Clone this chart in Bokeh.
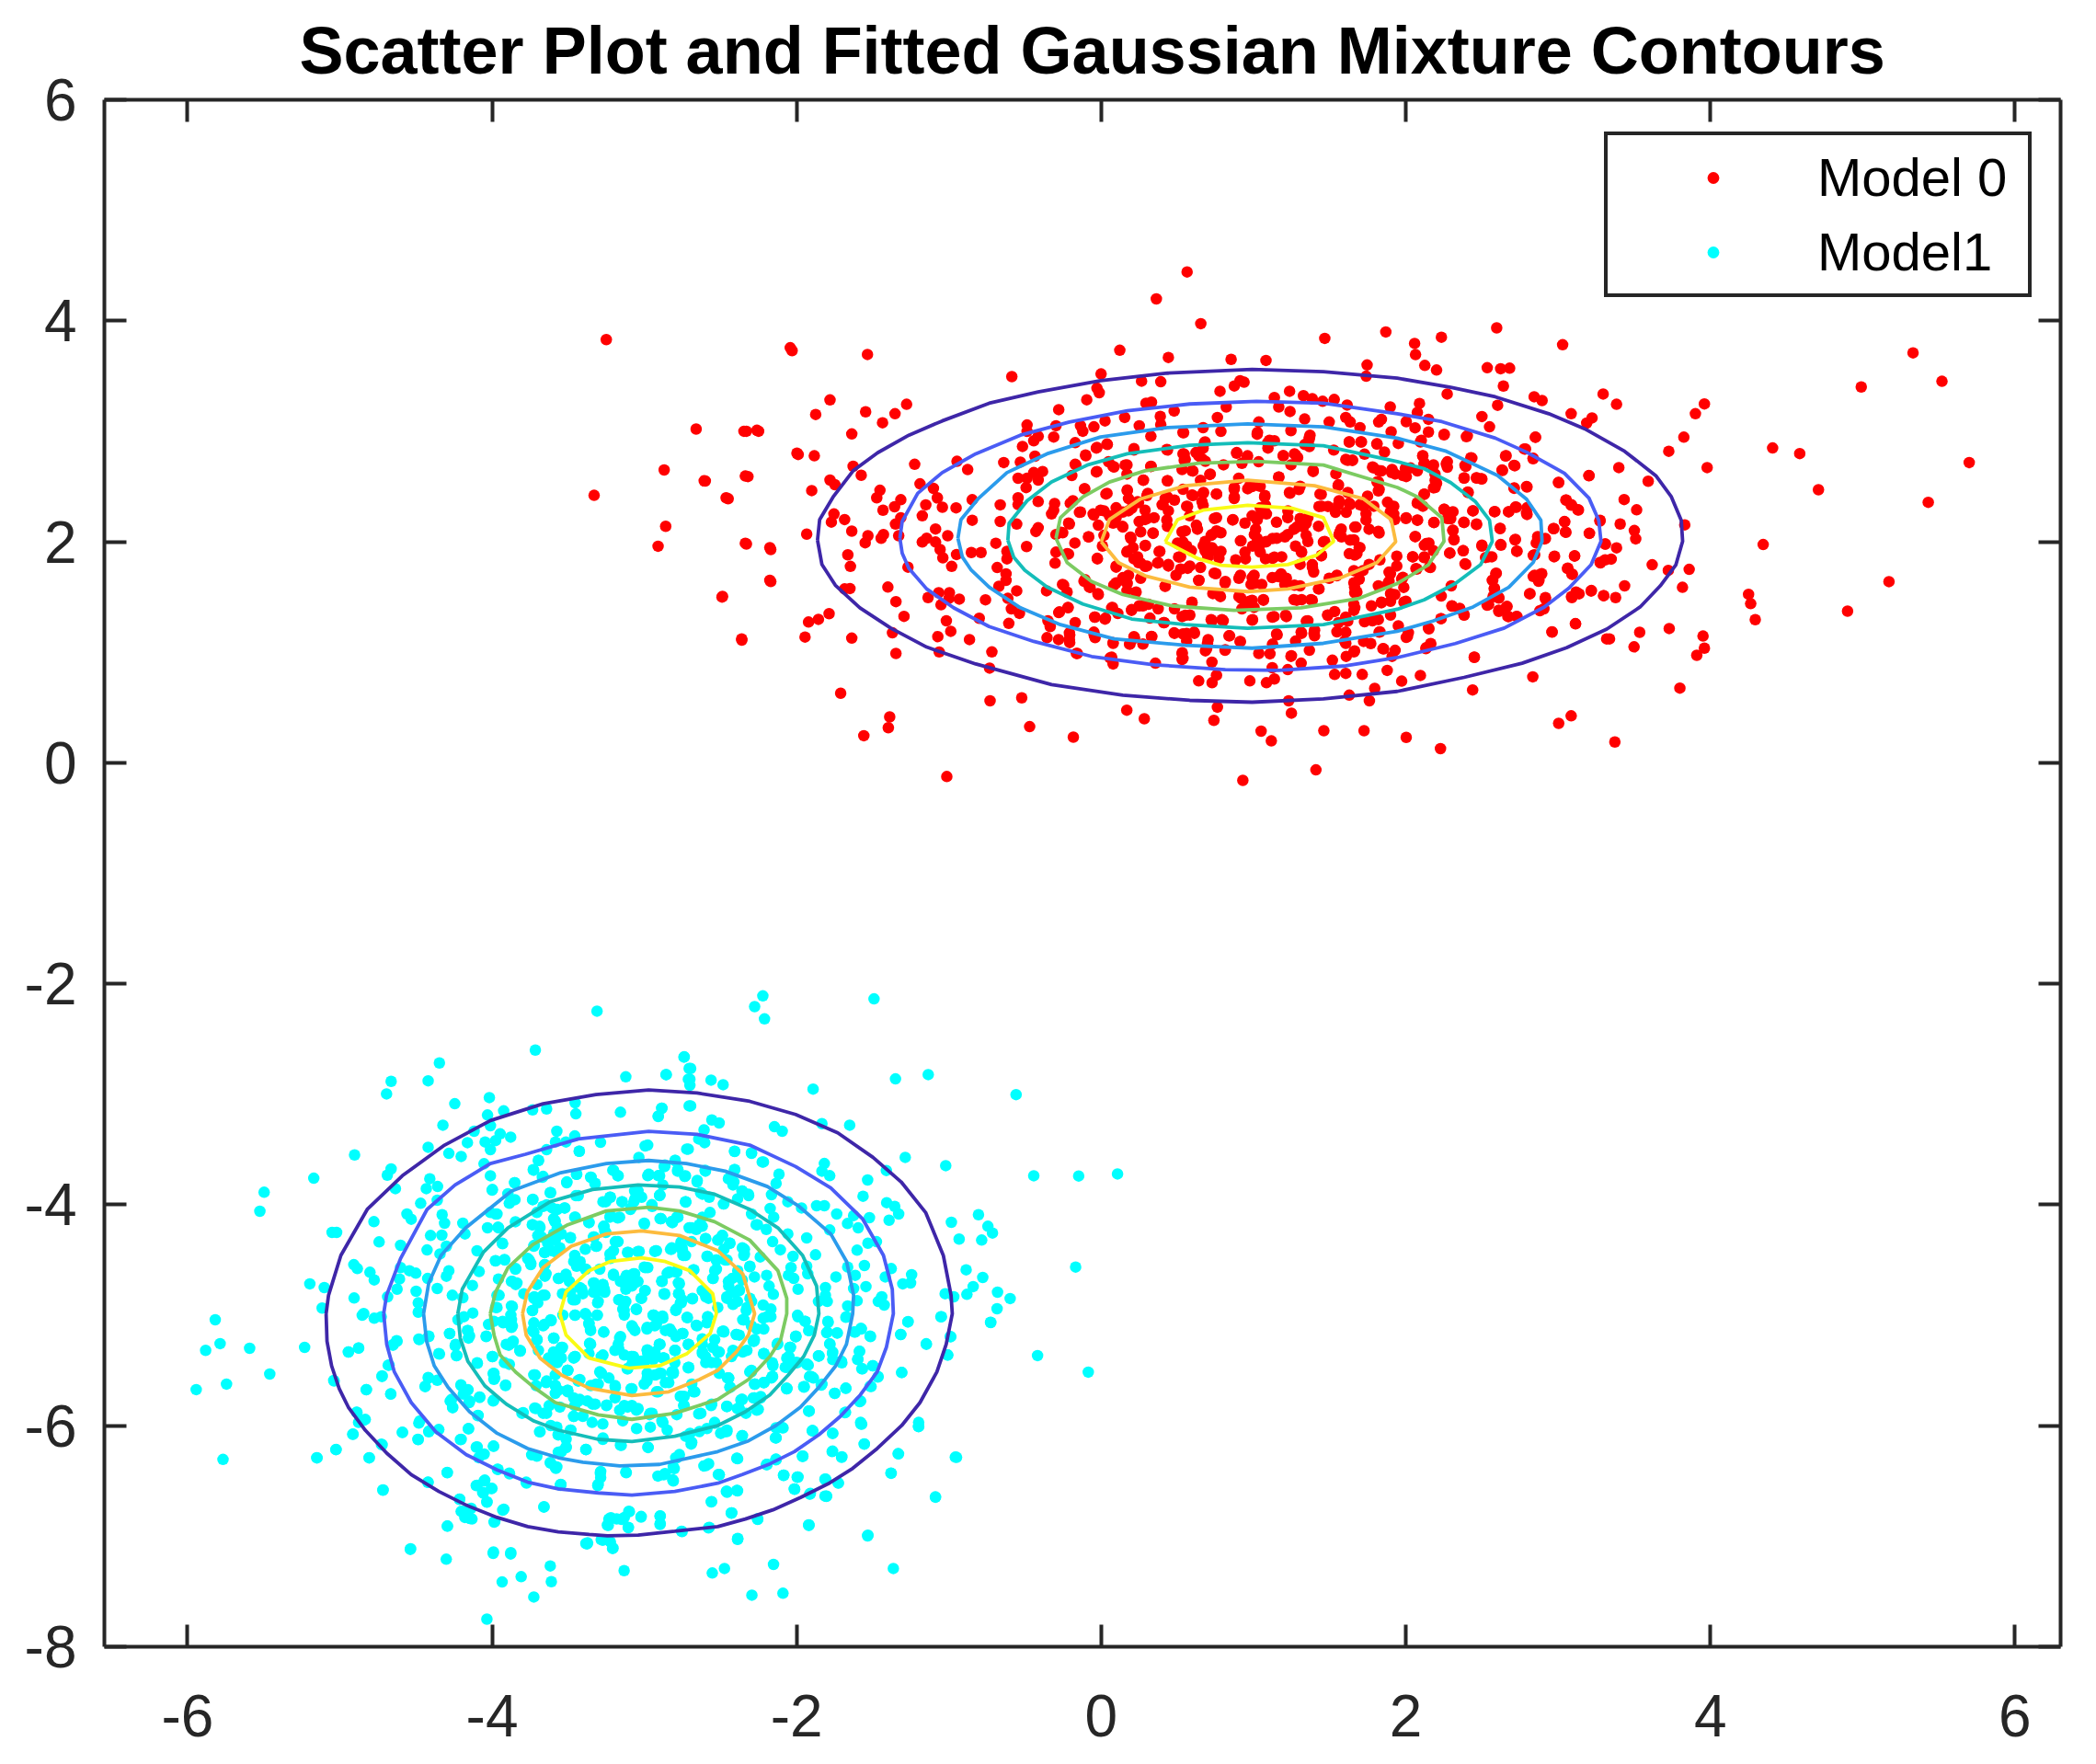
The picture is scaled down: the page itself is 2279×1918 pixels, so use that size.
from bokeh.embed import file_html
from bokeh.models import FixedTicker, Legend, LegendItem, LinearAxis, Range1d
from bokeh.plotting import figure
from bokeh.resources import INLINE

x_ticks = [-6, -4, -2, 0, 2, 4, 6]
y_ticks = [-8, -6, -4, -2, 0, 2, 4, 6]
series_names = ["Model 0", "Model1"]
title_text = "Scatter Plot and Fitted Gaussian Mixture Contours"

contour_colors = ["#3e26a8", "#4a5cf5", "#2b9bec", "#14bdb9", "#7ccb62", "#fcbb3e", "#f9fb15"]

# contours around model 0, outermost first
red_contour_1 = [(-1.863,2.014),(-1.849,2.201),(-1.761,2.405),(-1.629,2.643),(-1.468,2.806),(-1.263,2.965),(-1.044,3.094),(-.736,3.254),(-.414,3.356),(-.004,3.458),(.435,3.526),(.991,3.56),(1.459,3.539),(1.944,3.481),(2.295,3.397),(2.588,3.312),(2.939,3.159),(3.174,3.023),(3.437,2.819),(3.642,2.598),(3.744,2.407),(3.809,2.195),(3.818,2.004),(3.774,1.792),(3.671,1.601),(3.539,1.41),(3.32,1.21),(3.056,1.041),(2.764,.901),(2.383,.773),(1.944,.646),(1.459,.578),(.991,.548),(.581,.565),(.142,.612),(-.326,.707),(-.824,.894),(-1.146,1.047),(-1.38,1.217),(-1.585,1.403),(-1.746,1.607),(-1.834,1.794)]
red_contour_2 = [(-1.322,2.031),(-1.307,2.184),(-1.205,2.439),(-1.044,2.626),(-.824,2.796),(-.531,2.965),(-.209,3.084),(.171,3.186),(.581,3.247),(1.02,3.271),(1.459,3.254),(1.944,3.159),(2.237,3.087),(2.588,2.938),(2.793,2.811),(3.042,2.62),(3.203,2.395),(3.267,2.195),(3.282,2.004),(3.217,1.792),(3.071,1.58),(2.91,1.41),(2.647,1.219),(2.325,1.079),(1.944,.952),(1.606,.877),(1.167,.836),(.815,.843),(.347,.887),(-.063,.962),(-.443,1.098),(-.736,1.233),(-.97,1.403),(-1.146,1.573),(-1.263,1.76),(-1.307,1.896)]
red_contour_3 = [(-.941,2.032),(-.921,2.201),(-.809,2.388),(-.619,2.626),(-.356,2.796),(-.004,2.948),(.435,3.033),(.962,3.067),(1.459,3.04),(1.944,2.938),(2.266,2.819),(2.603,2.6),(2.793,2.386),(2.887,2.195),(2.895,2.004),(2.837,1.813),(2.676,1.588),(2.442,1.41),(2.178,1.283),(1.944,1.19),(1.459,1.081),(.991,1.037),(.552,1.064),(.084,1.121),(-.268,1.25),(-.531,1.403),(-.736,1.59),(-.853,1.743),(-.912,1.862)]
red_contour_4 = [(-.613,2.014),(-.605,2.167),(-.487,2.371),(-.326,2.541),(-.092,2.694),(.171,2.796),(.581,2.874),(.962,2.897),(1.459,2.87),(1.944,2.726),(2.12,2.662),(2.295,2.535),(2.456,2.365),(2.55,2.195),(2.568,2.004),(2.491,1.792),(2.325,1.622),(2.12,1.474),(1.944,1.389),(1.459,1.25),(.962,1.217),(.552,1.25),(.2,1.301),(-.121,1.437),(-.356,1.59),(-.502,1.743),(-.575,1.862)]
red_contour_5 = [(-.297,2.032),(-.268,2.218),(-.121,2.405),(.054,2.541),(.288,2.643),(.64,2.711),(1.02,2.728),(1.459,2.694),(1.944,2.492),(2.076,2.407),(2.237,2.217),(2.251,2.004),(2.149,1.792),(1.944,1.622),(1.694,1.488),(1.313,1.403),(.874,1.38),(.464,1.42),(.142,1.522),(-.063,1.641),(-.224,1.811)]
red_contour_6 = [(0.0,2.0),(.054,2.201),(.259,2.388),(.552,2.507),(.962,2.558),(1.401,2.507),(1.723,2.388),(1.904,2.201),(1.934,2.0),(1.811,1.811),(1.576,1.675),(1.225,1.573),(.962,1.549),(.581,1.59),(.288,1.692),(.113,1.811)]
red_contour_7 = [(.42,2.0),(.502,2.201),(.669,2.286),(.962,2.33),(1.254,2.303),(1.459,2.218),(1.527,2.004),(1.415,1.879),(1.225,1.794),(.991,1.77),(.786,1.787),(.64,1.845)]

# contours around model 1, outermost first
cyan_contour_1 = [(-5.09,-4.986),(-5.074,-4.819),(-4.993,-4.458),(-4.82,-4.042),(-4.589,-3.737),(-4.312,-3.46),(-4.011,-3.238),(-3.665,-3.086),(-3.318,-3.003),(-2.972,-2.961),(-2.654,-2.989),(-2.308,-3.064),(-2.007,-3.183),(-1.73,-3.349),(-1.499,-3.571),(-1.314,-3.793),(-1.153,-4.07),(-1.037,-4.458),(-.986,-4.819),(-.978,-4.986),(-1.018,-5.263),(-1.079,-5.513),(-1.19,-5.79),(-1.31,-5.998),(-1.471,-6.206),(-1.632,-6.386),(-1.793,-6.525),(-1.975,-6.65),(-2.156,-6.761),(-2.337,-6.844),(-2.518,-6.913),(-2.8,-6.955),(-3.041,-6.99),(-3.243,-6.996),(-3.363,-6.983),(-3.565,-6.96),(-3.766,-6.913),(-3.967,-6.83),(-4.169,-6.719),(-4.35,-6.594),(-4.531,-6.442),(-4.692,-6.248),(-4.833,-6.04),(-4.944,-5.832),(-5.004,-5.665),(-5.054,-5.457),(-5.084,-5.236)]
cyan_contour_2 = [(-4.712,-4.986),(-4.693,-4.819),(-4.601,-4.486),(-4.427,-4.042),(-4.243,-3.821),(-4.011,-3.627),(-3.78,-3.543),(-3.434,-3.405),(-2.972,-3.335),(-2.654,-3.363),(-2.308,-3.46),(-2.007,-3.654),(-1.776,-3.848),(-1.568,-4.126),(-1.43,-4.458),(-1.372,-4.764),(-1.365,-4.986),(-1.411,-5.291),(-1.471,-5.513),(-1.582,-5.721),(-1.713,-5.915),(-1.854,-6.081),(-2.015,-6.234),(-2.176,-6.345),(-2.357,-6.442),(-2.518,-6.52),(-2.8,-6.594),(-3.082,-6.627),(-3.303,-6.608),(-3.565,-6.572),(-3.766,-6.511),(-3.967,-6.4),(-4.169,-6.262),(-4.37,-6.054),(-4.531,-5.79),(-4.642,-5.513),(-4.692,-5.263)]
cyan_contour_3 = [(-4.45,-4.986),(-4.416,-4.708),(-4.335,-4.458),(-4.173,-4.209),(-3.873,-3.876),(-3.549,-3.71),(-3.249,-3.627),(-2.972,-3.599),(-2.724,-3.627),(-2.47,-3.696),(-2.192,-3.835),(-1.984,-4.015),(-1.776,-4.264),(-1.672,-4.514),(-1.626,-4.819),(-1.632,-4.986),(-1.673,-5.263),(-1.743,-5.457),(-1.854,-5.652),(-1.975,-5.832),(-2.136,-5.998),(-2.317,-6.137),(-2.518,-6.234),(-2.9,-6.35),(-3.162,-6.364),(-3.404,-6.331),(-3.565,-6.29),(-3.766,-6.206),(-3.967,-6.068),(-4.148,-5.873),(-4.289,-5.652),(-4.38,-5.457),(-4.43,-5.236)]
cyan_contour_4 = [(-4.225,-4.986),(-4.196,-4.764),(-4.058,-4.431),(-3.896,-4.209),(-3.619,-3.973),(-3.341,-3.862),(-3.041,-3.821),(-2.77,-3.84),(-2.539,-3.904),(-2.308,-4.042),(-2.123,-4.209),(-1.961,-4.458),(-1.869,-4.736),(-1.854,-4.986),(-1.884,-5.18),(-1.954,-5.374),(-2.055,-5.541),(-2.176,-5.721),(-2.337,-5.873),(-2.518,-5.998),(-2.8,-6.095),(-3.082,-6.142),(-3.303,-6.123),(-3.565,-6.04),(-3.726,-5.957),(-3.907,-5.804),(-4.048,-5.638),(-4.159,-5.416),(-4.209,-5.208)]
cyan_contour_5 = [(-4.012,-4.986),(-3.977,-4.791),(-3.896,-4.569),(-3.734,-4.361),(-3.503,-4.181),(-3.249,-4.056),(-2.972,-4.023),(-2.77,-4.056),(-2.539,-4.153),(-2.308,-4.32),(-2.123,-4.597),(-2.065,-4.847),(-2.065,-4.986),(-2.105,-5.222),(-2.176,-5.374),(-2.317,-5.582),(-2.518,-5.762),(-2.8,-5.887),(-3.082,-5.942),(-3.303,-5.901),(-3.585,-5.79),(-3.726,-5.652),(-3.846,-5.513),(-3.947,-5.36),(-3.987,-5.18)]
cyan_contour_6 = [(-3.8,-4.986),(-3.769,-4.791),(-3.665,-4.569),(-3.48,-4.375),(-3.249,-4.264),(-3.018,-4.237),(-2.77,-4.278),(-2.516,-4.417),(-2.354,-4.625),(-2.276,-4.986),(-2.317,-5.18),(-2.397,-5.333),(-2.518,-5.499),(-2.639,-5.582),(-2.84,-5.693),(-3.082,-5.726),(-3.363,-5.66),(-3.545,-5.541),(-3.685,-5.388),(-3.776,-5.18)]
cyan_contour_7 = [(-3.555,-4.986),(-3.515,-4.791),(-3.364,-4.597),(-3.226,-4.514),(-3.018,-4.481),(-2.862,-4.514),(-2.701,-4.597),(-2.551,-4.805),(-2.527,-4.985),(-2.568,-5.166),(-2.719,-5.346),(-2.9,-5.457),(-3.102,-5.479),(-3.363,-5.388),(-3.514,-5.18)]

red_contours = [red_contour_1, red_contour_2, red_contour_3, red_contour_4, red_contour_5, red_contour_6, red_contour_7]
cyan_contours = [cyan_contour_1, cyan_contour_2, cyan_contour_3, cyan_contour_4, cyan_contour_5, cyan_contour_6, cyan_contour_7]

model_0_points = [(.564,4.442),(.362,4.198),(.654,3.974),(1.869,3.899),(1.468,3.841),(-2.042,3.756),(-1.535,3.695),(.122,3.733),(.441,3.668),(.853,3.651),(1.082,3.641),(1.746,3.6),(-.587,3.495),(-.001,3.519),(.265,3.454),(.391,3.448),(1.74,3.498),(.912,3.458),(.938,3.444),(.874,3.41),(-.028,3.39),(-.013,3.349),(.78,3.362),(1.237,3.362),(-.095,3.285),(1.137,3.305),(1.328,3.322),(1.386,3.295),(1.454,3.271),(1.53,3.288),(-1.781,3.284),(-1.278,3.244),(.294,3.254),(.33,3.264),(.821,3.22),(1.166,3.22),(1.24,3.179),(1.615,3.237),(1.898,3.22),(-.279,3.196),(-1.875,3.152),(-1.547,3.176),(-1.354,3.159),(.479,3.183),(.388,3.135),(.763,3.125),(.154,3.125),(1.606,3.125),(1.635,3.084),(1.84,3.108),(1.822,3.084),(-1.436,3.077),(1.336,3.111),(.025,3.094),(.391,3.06),(1.035,3.084),(1.497,3.084),(-.487,3.057),(-.297,3.05),(-.136,3.05),(-.048,3.04),(-.121,3.0),(.25,3.05),(-2.261,3.009),(-2.346,3.0),(.669,3.033),(.537,2.989),(.786,2.999),(1.026,2.989),(1.246,3.006),(1.699,3.033),(-1.638,2.976),(-.487,2.999),(1.371,2.965),(1.366,2.931),(1.904,2.996),(.326,2.955),(-.414,2.955),(-.443,2.914),(-.312,2.948),(-.517,2.863),(1.629,2.904),(1.705,2.904),(.678,2.897),(1.093,2.897),(1.137,2.914),(-.171,2.897),(.04,2.88),(-.028,2.853),(1.811,2.887),(1.337,2.88),(.669,2.846),(.215,2.83),(.435,2.83),(-1.998,2.802),(-1.884,2.778),(-.101,2.778),(-.435,2.775),(.889,2.802),(.961,2.778),(.537,2.796),(.552,2.745),(1.196,2.778),(1.269,2.796),(1.29,2.762),(1.527,2.83),(1.606,2.745),(1.65,2.738),(.64,2.778),(.684,2.728),(-.947,2.728),(-1.225,2.701),(-.64,2.717),(-.531,2.721),(-.171,2.701),(-.877,2.653),(1.782,2.677),(1.825,2.643),(1.907,2.626),(-.385,2.636),(-.443,2.626),(.157,2.694),(.084,2.677),(.327,2.683),(-.028,2.636),(-1.629,2.683),(-1.576,2.602),(-2.337,2.595),(1.392,2.636),(1.541,2.615),(-.546,2.575),(-.487,2.575),(-.414,2.558),(.596,2.643),(.713,2.609),(-1.781,2.558),(-2.607,2.551),(.903,2.575),(.435,2.551),(.277,2.558),(1.167,2.585),(1.811,2.541),(-1.19,2.524),(-1.102,2.483),(-1.749,2.517),(.874,2.49),(.991,2.5),(.962,2.48),(-.493,2.49),(-.109,2.48),(-1.901,2.463),(-1.453,2.466),(-1.474,2.398),(.435,2.405),(.406,2.337),(.171,2.463),(1.556,2.507),(1.825,2.473),(.596,2.422),(.669,2.439),(.757,2.432),(1.445,2.429),(-1.076,2.398),(-2.463,2.398),(.031,2.432),(1.073,2.405),(1.24,2.439),(1.298,2.473),(1.562,2.371),(1.635,2.337),(1.723,2.32),(-.546,2.398),(-.546,2.337),(-.186,2.371),(.245,2.354),(.201,2.303),(.142,2.269),(.098,2.218),(-1.316,2.381),(-.847,2.381),(.874,2.405),(-.414,2.364),(-.306,2.347),(-.312,2.286),(-.326,2.252),(1.43,2.32),(1.489,2.32),(.567,2.32),(.669,2.33),(-1.152,2.334),(-1.357,2.317),(1.079,2.33),(.991,2.235),(1.05,2.252),(.288,2.286),(.347,2.218),(-1.043,2.313),(-.953,2.307),(-.663,2.334),(-.136,2.269),(-1.433,2.286),(-.048,2.242),(-.004,2.286),(.054,2.235),(-1.175,2.235),(-1.316,2.218),(-1.351,2.16),(1.898,2.269),(1.928,2.201),(.581,2.235),(.625,2.15),(.757,2.218),(1.225,2.218),(1.284,2.133),(1.357,2.218),(1.328,2.133),(1.665,2.133),(1.576,2.116),(1.825,2.08),(-1.755,2.252),(-1.772,2.178),(-1.685,2.201),(-.847,2.195),(-.663,2.184),(-.555,2.16),(.435,2.14),(.865,2.201),(-.019,2.15),(-.209,2.16),(-.414,2.127),(-.429,2.093),(.757,2.099),(.727,2.065),(.786,2.082),(-1.088,2.116),(.142,2.133),(.288,2.201),(.552,2.099),(.341,2.076),(-1.638,2.096),(1.006,2.066),(1.152,2.032),(1.225,2.066),(1.079,1.998),(-1.934,2.069),(-1.532,2.055),(-1.43,2.066),(-1.445,2.032),(-1.33,2.055),(-1.008,2.055),(1.562,2.066),(1.635,2.015),(-.253,2.082),(-.297,2.066),(-1.146,2.032),(-1.175,1.998),(-1.55,1.991),(-.083,2.045),(.192,2.042),(.537,1.998),(.508,1.98),(.918,2.008),(.67,1.964),(.727,1.947),(.786,1.913),(.698,1.879),(-2.337,1.987),(-2.176,1.947),(-1.088,1.998),(-1.058,1.93),(-.692,1.987),(-.49,1.957),(.288,1.964),(1.459,1.998),(1.694,1.947),(1.665,1.879),(1.035,1.947),(1.137,1.862),(.171,1.913),(.215,1.845),(.385,1.913),(-1.664,1.882),(-.853,1.903),(-.789,1.903),(-1.04,1.855),(-.95,1.885),(-.619,1.913),(-.619,1.845),(1.313,1.913),(1.445,1.872),(-.297,1.906),(-.215,1.889),(-.025,1.845),(.245,1.811),(-.303,1.807),(.508,1.862),(.947,1.845),(1.079,1.845),(1.386,1.794),(1.395,1.726),(-1.647,1.777),(-.683,1.767),(.288,1.777),(.375,1.811),(.441,1.794),(-.982,1.777),(-1.269,1.77),(.098,1.77),(.567,1.76),(-.625,1.709),(-.625,1.651),(.742,1.716),(1.181,1.709),(1.123,1.675),(1.547,1.692),(1.899,1.709),(-2.176,1.651),(.991,1.675),(1.006,1.624),(.142,1.675),(.083,1.607),(.171,1.624),(.64,1.651),(1.694,1.66),(1.664,1.59),(.815,1.641),(-.107,1.658),(-.078,1.59),(-1.401,1.59),(-.247,1.607),(.42,1.597),(1.43,1.573),(1.269,1.607),(-1.65,1.577),(-1.685,1.573),(-.672,1.597),(1.665,1.539),(1.884,1.624),(1.928,1.522),(-.019,1.522),(-.555,1.556),(-.359,1.556),(-1.067,1.539),(-.997,1.539),(.771,1.522),(.918,1.488),(.991,1.471),(1.065,1.471),(.947,1.42),(-2.487,1.505),(-1.137,1.495),(-1.0,1.488),(-.932,1.481),(-.76,1.475),(-1.348,1.458),(-.613,1.488),(1.284,1.471),(1.386,1.471),(1.665,1.403),(1.84,1.454),(-1.052,1.43),(.596,1.454),(-.59,1.393),(-.537,1.352),(-.218,1.403),(-.279,1.359),(.274,1.42),(.2,1.386),(1.533,1.369),(-1.787,1.349),(-1.295,1.325),(.069,1.403),(.552,1.335),(-.042,1.318),(.025,1.3),(.728,1.285),(.801,1.285),(.991,1.291),(1.123,1.318),(1.211,1.335),(1.488,1.335),(1.606,1.318),(.414,1.268),(-1.922,1.274),(-1.857,1.298),(-1.017,1.285),(-.801,1.308),(-.607,1.261),(-.35,1.285),(-.335,1.233),(-.171,1.268),(1.357,1.285),(1.781,1.285),(1.152,1.166),(.479,1.176),(.537,1.166),(.61,1.182),(1.313,1.182),(1.401,1.2),(1.401,1.149),(1.606,1.182),(1.825,1.182),(-1.371,1.176),(-.988,1.19),(-.209,1.176),(-.209,1.115),(-.048,1.182),(-.04,1.132),(.215,1.142),(.332,1.142),(-1.945,1.138),(-2.361,1.121),(-1.638,1.128),(-1.073,1.142),(-.865,1.115),(-.356,1.132),(-.28,1.115),(.839,1.149),(.078,1.081),(.186,1.074),(.274,1.074),(.698,1.081),(.684,1.013),(.912,1.098),(1.606,1.081),(1.723,1.098),(1.855,1.03),(-.718,1.003),(-1.348,.989),(-1.064,1.003),(.532,.996),(.537,.945),(1.035,.989),(1.108,.986),(.815,1.023),(-.157,.989),(.069,.955),(.078,.894),(1.249,.969),(1.664,1.012),(1.518,.928),(1.878,.836),(.356,.901),(1.313,.901),(.727,.911),(1.123,.86),(1.225,.843),(1.533,.799),(1.606,.809),(1.714,.799),(-.733,.857),(.757,.792),(.728,.724),(.976,.741),(1.085,.724),(1.137,.758),(.64,.741),(1.796,.673),(-1.711,.629),(1.629,.612),(-.73,.561),(-.522,.588),(1.761,.561),(1.231,.561),(.763,.503),(.168,.476),(.283,.398),(1.249,.449),(-1.389,.415),(-1.398,.317),(-1.559,.245),(-.47,.327),(-.183,.232),(.74,.384),(1.05,.286),(1.117,.198),(1.462,.29),(1.726,.29),(-1.014,-.125),(.93,-.159),(1.41,-.064),
    (-3.25,3.83),(-3.33,2.42),(-2.87,2.65),(-2.86,2.14),(-2.91,1.96),(-2.66,3.02),(-2.6,2.55),(-2.33,3.0),(-2.25,3.0),(-2.32,2.59),(-2.45,2.39),(-2.33,1.98),(-2.17,1.93),(-2.17,1.64),(-2.49,1.5),(-2.36,1.11),(-2.03,3.73),(-1.99,2.79),
    (2.597,3.936),(2.058,3.795),(2.064,3.694),(2.234,3.851),(3.03,3.783),(2.125,3.596),(2.202,3.554),(2.535,3.575),(2.623,3.566),(2.682,3.571),(5.331,3.71),(5.521,3.452),(4.991,3.401),(2.641,3.409),(2.272,3.337),(3.296,3.337),(2.843,3.312),(2.895,3.278),(3.384,3.244),(3.961,3.248),(3.902,3.159),(2.09,3.252),(2.603,3.235),(3.086,3.159),(3.223,3.121),(3.188,3.074),(2.5,3.133),(2.55,3.04),(2.076,3.171),(2.149,3.108),(2.061,3.031),(2.003,3.087),(2.149,2.993),(2.251,2.968),(2.398,2.951),(2.851,2.947),(3.826,2.947),(2.096,2.904),(4.409,2.849),(4.587,2.798),(3.727,2.819),(2.778,2.84),(2.655,2.777),(2.427,2.76),(5.7,2.717),(2.111,2.777),(2.12,2.705),(2.178,2.683),(2.266,2.705),(3.979,2.671),(3.399,2.671),(2.711,2.692),(2.389,2.692),(2.837,2.755),(1.997,2.662),(2.076,2.641),(2.003,2.59),(3.203,2.598),(2.632,2.649),(2.383,2.577),(2.465,2.577),(2.5,2.569),(2.193,2.556),(2.193,2.492),(3.004,2.535),(3.592,2.548),(2.711,2.484),(2.793,2.501),(4.71,2.471),(2.407,2.45),(2.12,2.429),(2.076,2.352),(3.051,2.378),(3.086,2.331),(3.13,2.289),(5.431,2.357),(3.434,2.382),(2.72,2.314),(2.676,2.272),(2.793,2.259),(2.251,2.293),(2.31,2.272),(2.295,2.208),(2.442,2.28),(2.582,2.272),(3.516,2.289),(2.003,2.217),(2.076,2.195),(2.184,2.174),(2.383,2.174),(2.465,2.161),(3.042,2.183),(2.969,2.119),(3.048,2.089),(3.276,2.195),(3.408,2.161),(3.832,2.153),(2.62,2.119),(2.31,2.102),(3.206,2.076),(3.501,2.102),(3.51,2.026),(2.061,2.047),(2.866,2.047),(2.91,2.026),(2.717,2.017),(2.316,2.017),(2.134,1.983),(2.5,1.97),(2.623,1.975),(3.311,1.979),(3.384,1.945),(4.347,1.975),(2.377,1.919),(2.729,1.915),(2.289,1.898),(2.046,1.864),(2.12,1.856),(2.544,1.864),(2.974,1.864),(3.109,1.873),(2.837,1.877),(3.276,1.813),(3.349,1.843),(2.389,1.8),(2.067,1.758),(2.155,1.771),(3.618,1.792),(3.062,1.758),(3.091,1.707),(3.724,1.741),(3.861,1.75),(2.594,1.716),(2.568,1.652),(2.887,1.707),(2.837,1.686),(2.875,1.656),(1.973,1.665),(5.173,1.639),(3.817,1.588),(3.437,1.601),(2.582,1.58),(3.217,1.554),(3.138,1.529),(3.091,1.495),(2.813,1.529),(3.3,1.512),(3.378,1.495),(2.916,1.486),(4.251,1.525),(4.265,1.44),(4.295,1.295),(2.573,1.503),(2.611,1.495),(1.988,1.453),(2.304,1.418),(2.354,1.397),(2.383,1.338),(2.544,1.431),(2.661,1.41),(2.611,1.381),(2.67,1.325),(2.728,1.325),(2.881,1.376),(4.901,1.372),(2.231,1.304),(3.115,1.257),(2.149,1.219),(3.73,1.215),(2.017,1.177),(2.003,1.134),(2.96,1.185),(3.536,1.181),(3.952,1.147),(3.338,1.121),(2.164,1.079),(2.134,1.041),(3.499,1.049),(3.961,1.037),(3.911,.973),(2.45,.956),(2.096,.79),(1.973,.739),(2.834,.778),(2.439,.659),(3.8,.676),(3.086,.425),(3.004,.357),(2.003,.23),(2.228,.128),(3.373,.188)]

model_0_core = [(-.103,2.785),(-.032,2.848),(.038,2.884),(.215,2.843),(-.167,2.696),(-.032,2.632),(.048,2.724),(.078,2.682),(.169,2.696),(.169,2.613),(.326,2.682),(-.193,2.599),(.276,2.557),(.435,2.552),(-.109,2.48),(.038,2.438),(.171,2.469),(.306,2.438),(.431,2.835),(.545,2.793),(.545,2.738),(.622,2.807),(.662,2.751),(.531,2.654),(.602,2.64),(.716,2.613),(.652,2.557),(.803,2.696),(.89,2.807),(.958,2.765),(1.034,2.724),(.924,2.71),(1.195,2.779),(1.276,2.785),(1.246,2.696),(1.165,2.585),(1.391,2.646),(1.024,2.973),(1.105,2.918),(1.095,2.848),(1.367,2.946),(1.367,2.862),(.682,2.904),(.541,2.987),(.873,2.474),(.873,2.391),(.974,2.502),(1.044,2.502),(1.075,2.419),(1.236,2.446),(1.306,2.502),(1.437,2.432),(.537,2.474),(.602,2.419),(.672,2.446),(.757,2.432),(.42,2.391),(.481,2.377),(.4,2.335),(.441,2.28),(.561,2.322),(.662,2.363),(.431,2.197),(.179,2.391),(.239,2.363),(.3,2.419),(-.203,2.349),(-.143,2.266),(-.053,2.252),(.018,2.28),(.098,2.308),(.179,2.28),(1.044,2.308),(1.085,2.252),(1.024,2.197),(.944,2.169),(.863,2.197),(.743,2.211),(1.151,2.177),(1.447,2.322),(1.226,2.28),(1.306,2.211),(1.346,2.169),(1.427,2.141),(1.266,2.114),(1.346,2.058),(1.206,2.044),(1.125,2.03),(1.024,2.03),(1.085,2.003),(1.014,2.114),(.994,1.961),(1.357,2.003),(1.468,2.003),(1.276,1.961),(1.316,1.905),(.3,2.211),(.249,2.183),(.259,2.09),(.34,2.08),(.139,2.141),(.078,2.169),(-.214,2.169),(.018,2.058),(-.083,2.044),(-.264,2.086),(.195,2.03),(.531,2.09),(.632,2.114),(.763,2.09),(.722,2.058),(.682,2.003),(.914,2.008),(-.173,1.989),(.008,1.961),(.209,1.947),(.29,1.967),(.501,1.989),(.561,1.961),(.592,1.919),(.38,1.911),(.169,1.906),(.239,1.864),(.682,1.919),(.743,1.919),(.773,1.85),(.702,1.864),(.521,1.864),(-.026,1.85),(-.224,1.892),(.944,1.906),(1.044,1.906),(1.125,1.85),(1.185,1.864),(1.447,1.878),(.883,1.836),(.259,1.808),(.3,1.781),(.098,1.781),(.37,1.808),(.441,1.781),(.582,1.781),(.652,1.767),(.521,1.753),(.491,1.697),(.42,1.6),(.642,1.651),(.753,1.711),(.914,1.697),(1.004,1.697),(1.165,1.684),(1.216,1.67),(1.387,1.767),(1.306,1.795),(1.497,1.67),(.813,1.628),(.904,1.67),(.984,1.614),(1.054,1.614),(1.206,1.614),(.179,1.697),(.259,1.67),(.098,1.628),(.159,1.642),(-.254,1.614),(-.113,1.642),(-.073,1.587),(-.022,1.531),(-.224,1.545),(.229,1.545),(.169,1.559),(1.427,1.573),(1.306,1.601),(.733,1.531),(.783,1.504),(.904,1.504),(.974,1.462),(1.065,1.476),(1.266,1.476),(1.316,1.476),(1.377,1.476),(.596,1.448),(.249,1.42),(.31,1.434),(.074,1.406),(-.218,1.406),(.199,1.379),(.374,1.393),(.481,1.393),(-.274,1.365),(.924,1.393),(1.004,1.406),(1.135,1.323),(1.216,1.323),(1.487,1.337),(-.042,1.318),(.028,1.309),(.109,1.351),(.32,1.309),(.531,1.323),(.582,1.337),(.722,1.295),(.793,1.295),(.994,1.295),(1.347,1.282),(.41,1.268),(.481,1.171),(.561,1.171),(.612,1.171),(.33,1.143),(.219,1.129),(-.207,1.157),(-.046,1.157),(-.207,1.088),(.078,1.088),(.189,1.074),(.561,1.101),(.702,1.115),(.843,1.149),(.914,1.096),(1.155,1.157),(1.316,1.171),(1.397,1.171),(1.276,1.101),(1.125,1.074),(.692,1.032),(.813,1.018),(.531,.99),(.531,.935),(1.246,.963),(1.367,1.018),(-.163,.99),(.058,.949),
    (1.629,2.904),(1.709,2.904),(1.81,2.884),(1.951,2.89),(1.86,2.812),(1.729,2.793),(2.112,2.779),(2.102,2.918),(2.253,2.973),(2.404,2.959),(2.852,2.946),(2.786,2.84),(2.659,2.779),(2.836,2.751),(2.716,2.688),(2.434,2.757),(2.394,2.682),(2.273,2.724),(2.273,2.674),(2.182,2.696),(2.122,2.71),(1.619,2.737),(1.649,2.737),(1.79,2.668),(1.84,2.641),(1.91,2.654),(1.93,2.613),(1.981,2.599),(2.031,2.668),(2.192,2.613),(2.202,2.53),(2.182,2.488),(2.635,2.646),(2.383,2.577),(2.464,2.579),(2.494,2.571),(3.203,2.599),(3.003,2.538),(2.796,2.496),(2.712,2.488),(2.41,2.446),(2.122,2.432),(1.82,2.543),(1.82,2.46),(1.558,2.516),(1.619,2.446),(1.749,2.413),(3.054,2.377),(3.088,2.335),(3.134,2.288),(2.726,2.313),(2.675,2.272),(2.796,2.308),(2.796,2.247),(2.585,2.274),(2.44,2.28),(2.253,2.294),(2.303,2.266),(2.273,2.211),(2.076,2.349),(2.112,2.322),(1.88,2.358),(1.921,2.322),(1.921,2.252),(1.79,2.322),(1.699,2.335),(1.629,2.349),(1.558,2.335),(1.609,2.266),(1.538,2.266),(1.739,2.252),(1.739,2.197),(2.001,2.211),(2.077,2.197),(2.186,2.175),(2.381,2.177),(2.464,2.155),(3.044,2.18),(3.275,2.188),(2.973,2.119),(3.052,2.086),(3.205,2.077),(2.619,2.122),(2.309,2.105),(1.673,2.133),(1.759,2.114),(1.82,2.094),(1.568,2.09),(1.578,2.044),(2.063,2.047),(2.317,2.022),(2.72,2.022),(2.867,2.03),(2.917,2.03),(2.857,1.989),(1.659,2.017),(2.152,1.989),(2.122,1.969),(2.182,1.919),(1.699,1.947),(1.629,1.892),(1.679,1.892),(2.5,1.961),(2.625,1.969),(3.309,1.98),(2.377,1.919),(2.73,1.914),(2.289,1.897),(2.846,1.883),(2.977,1.87),(3.108,1.87),(1.941,1.87),(2.045,1.864),(2.122,1.864),(2.524,1.858),(2.565,1.864),(3.309,1.836),(3.279,1.809),(2.394,1.795),(1.83,1.836),(1.941,1.781),(2.072,1.753),(2.162,1.767),(1.759,1.795),(1.659,1.739),(1.719,1.739),(1.89,1.725),(1.548,1.697),(3.064,1.761),(3.094,1.706),(2.591,1.711),(2.893,1.711),(2.846,1.697),(2.872,1.642),(2.571,1.651),(1.981,1.678),(1.82,1.601),(1.89,1.642),(1.987,1.587),(1.659,1.628),(1.679,1.545),(2.299,1.601),(2.581,1.573),(2.816,1.531),(3.219,1.559),(3.299,1.512),(3.118,1.545),(3.088,1.503),(1.9,1.531),(2.233,1.509),(2.611,1.49),(2.917,1.495),(1.659,1.434),(1.84,1.448),(2.001,1.462),(1.774,1.42),(1.9,1.462),(1.659,1.379),(2.303,1.42),(2.353,1.393),(2.534,1.426),(2.665,1.415),(2.611,1.37),(2.383,1.337),(2.675,1.323),(2.73,1.323),(2.907,1.393),(1.9,1.337),(1.82,1.296),(2.232,1.304),(1.729,1.276),(1.619,1.282),(1.558,1.268),(1.951,1.24),(3.114,1.259),(2.152,1.212),(1.548,1.185),(1.83,1.185),(2.961,1.182),(2.011,1.143),(1.77,1.079),(3.319,1.121),(1.598,1.101),(2.162,1.074),(1.85,1.032),(1.93,1.018),(2.132,1.032),(1.659,1.004),(1.609,.963),(1.91,.963),(2.45,.954)]

model_1_points = [(-3.311,-2.248),(-3.716,-2.6),(-4.346,-2.717),(-2.738,-2.661),(-4.663,-2.883),(-4.42,-2.878),(-4.693,-2.997),(-3.122,-2.842),(-2.856,-2.822),(-2.706,-2.767),(-2.711,-2.864),(-4.245,-3.086),(-4.018,-3.03),(-3.455,-3.077),(-3.45,-3.177),(-3.642,-3.133),(-3.734,-3.141),(-3.924,-3.15),(-4.03,-3.188),(-3.157,-3.163),(-2.886,-3.127),(-2.909,-3.197),(-2.706,-3.105),(-4.323,-3.28),(-4.011,-3.285),(-4.118,-3.335),(-3.575,-3.335),(-3.947,-3.358),(-3.878,-3.388),(-3.977,-3.419),(-4.046,-3.432),(-4.011,-3.502),(-3.457,-3.377),(-3.427,-3.516),(-3.584,-3.432),(-3.515,-3.432),(-4.42,-3.48),(-4.162,-3.438),(-3.288,-3.435),(-2.995,-3.468),(-4.284,-3.535),(-4.203,-3.563),(-2.722,-3.496),(-4.903,-3.549),(-3.642,-3.502),(-4.053,-3.629),(-3.695,-3.599),(-3.727,-3.688),(-3.036,-3.571),(-2.798,-3.599),(-2.868,-3.654),(-4.663,-3.676),(-4.688,-3.732),(-5.171,-3.76),(-4.011,-3.738),(-4.409,-3.765),(-4.432,-3.854),(-4.358,-3.835),(-4.635,-3.854),(-3.665,-3.743),(-3.446,-3.724),(-3.353,-3.751),(-3.325,-3.807),(-3.203,-3.688),(-3.175,-3.737),(-2.972,-3.729),(-2.902,-3.737),(-2.78,-3.688),(-2.734,-3.743),(-3.852,-3.801),(-3.51,-3.801),(-4.0,-3.868),(-3.619,-3.89),(-3.064,-3.876),(-5.497,-3.887),(-2.879,-3.821),(-3.226,-3.932),(-3.272,-3.973),(-3.018,-3.932),(-3.069,-3.973),(-2.898,-3.912),(-3.45,-3.918),(-4.469,-3.987),(-4.36,-3.959),(-3.85,-3.954),(-3.896,-3.901),(-3.734,-3.954),(-3.145,-3.973),(-2.729,-3.973),(-3.642,-4.001),(-3.572,-4.042),(-3.522,-4.029),(-5.525,-4.059),(-4.559,-4.084),(-4.531,-4.131),(-4.328,-4.09),(-4.312,-4.167),(-4.011,-4.07),(-3.977,-4.084),(-4.03,-4.209),(-3.961,-4.203),(-3.226,-4.112),(-3.175,-4.12),(-3.087,-4.029),(-2.949,-4.015),(-2.891,-4.126),(-2.822,-4.153),(-2.787,-4.112),(-3.596,-4.126),(-4.776,-4.153),(-4.192,-4.167),(-3.734,-4.181),(-3.688,-4.195),(-3.589,-4.148),(-3.457,-4.112),(-3.364,-4.162),(-3.265,-4.195),(-3.26,-4.237),(-3.0,-4.173),(-5.051,-4.25),(-5.021,-4.25),(-4.404,-4.278),(-4.33,-4.275),(-4.178,-4.264),(-3.572,-4.209),(-3.596,-4.264),(-3.63,-4.32),(-3.487,-4.298),(-3.7,-4.278),(-3.33,-4.292),(-3.191,-4.334),(-2.706,-4.209),(-3.931,-4.353),(-4.742,-4.336),(-4.601,-4.367),(-4.3,-4.375),(-3.318,-4.375),(-3.388,-4.403),(-3.723,-4.367),(-4.427,-4.409),(-4.342,-4.445),(-3.584,-4.425),(-3.653,-4.431),(-4.099,-4.417),(-3.111,-4.431),(-3.034,-4.422),(-2.926,-4.417),(-2.822,-4.403),(-2.752,-4.389),(-2.741,-4.458),(-3.226,-4.445),(-3.457,-4.458),(-3.422,-4.514),(-3.757,-4.5),(-3.746,-4.542),(-3.977,-4.506),(-3.919,-4.495),(-4.908,-4.542),(-4.885,-4.578),(-3.653,-4.542),(-3.845,-4.578),(-3.445,-4.556),(-3.388,-4.583),(-2.995,-4.569),(-4.802,-4.611),(-4.774,-4.68),(-4.601,-4.569),(-4.543,-4.597),(-4.501,-4.619),(-4.284,-4.597),(-4.3,-4.647),(-4.085,-4.605),(-2.833,-4.611),(-2.787,-4.605),(-3.203,-4.639),(-3.653,-4.647),(-3.515,-4.639),(-3.561,-4.667),(-3.492,-4.694),(-3.117,-4.639),(-3.064,-4.625),(-3.157,-4.694),(-3.064,-4.708),(-3.122,-4.764),(-4.423,-4.667),(-4.608,-4.672),(-3.958,-4.672),(-3.873,-4.694),(-3.845,-4.722),(-2.884,-4.694),(-2.775,-4.708),(-4.129,-4.73),(-5.197,-4.716),(-5.102,-4.75),(-4.624,-4.764),(-4.36,-4.758),(-3.33,-4.708),(-3.272,-4.722),(-3.411,-4.764),(-3.318,-4.791),(-3.26,-4.791),(-2.995,-4.777),(-3.018,-4.847),(-2.775,-4.805),(-3.792,-4.805),(-3.723,-4.833),(-3.653,-4.819),(-3.7,-4.888),(-3.954,-4.819),(-4.261,-4.819),(-4.192,-4.841),(-4.499,-4.783),(-4.906,-4.844),(-4.686,-4.833),(-2.868,-4.81),(-3.538,-4.805),(-3.469,-4.86),(-3.168,-4.86),(-3.133,-4.902),(-3.133,-4.957),(-3.307,-4.888),(-2.752,-4.86),(-5.116,-4.935),(-4.485,-4.888),(-4.485,-4.972),(-3.053,-4.944),(-3.734,-4.957),(-3.873,-4.916),(-3.977,-4.93),(-4.843,-4.985),(-4.774,-5.027),(-4.728,-5.013),(-4.127,-4.98),(-4.185,-5.013),(-3.931,-5.055),(-3.873,-5.041),(-3.873,-5.11),(-3.457,-5.0),(-3.388,-4.985),(-3.311,-5.0),(-2.937,-5.0),(-2.879,-5.027),(-2.794,-4.957),(-4.023,-5.083),(-4.224,-5.041),(-3.612,-5.049),(-3.665,-5.096),(-3.734,-5.138),(-3.364,-5.069),(-3.353,-5.138),(-3.076,-5.11),(-2.983,-5.124),(-5.818,-5.041),(-5.231,-5.291),(-5.786,-5.257),(-5.881,-5.318),(-5.592,-5.299),(-4.943,-5.332),(-4.876,-5.296),(-4.162,-5.138),(-4.155,-5.207),(-4.279,-5.166),(-4.624,-5.235),(-4.651,-5.271),(-4.416,-5.193),(-4.478,-5.221),(-3.267,-5.152),(-3.596,-5.207),(-3.157,-5.193),(-2.833,-5.124),(-2.752,-5.166),(-4.242,-5.276),(-4.039,-5.193),(-3.861,-5.235),(-3.891,-5.271),(-3.704,-5.221),(-3.358,-5.257),(-3.168,-5.304),(-2.902,-5.263),(-4.346,-5.351),(-4.231,-5.365),(-3.815,-5.324),(-3.596,-5.332),(-3.538,-5.291),(-3.63,-5.387),(-3.572,-5.429),(-3.272,-5.36),(-2.798,-5.318),(-3.999,-5.374),(-3.457,-5.374),(-3.087,-5.374),(-2.949,-5.346),(-2.879,-5.387),(-2.995,-5.415),(-3.919,-5.429),(-5.46,-5.532),(-5.744,-5.623),(-5.943,-5.673),(-4.677,-5.451),(-4.097,-5.435),(-3.503,-5.498),(-3.988,-5.526),(-3.988,-5.581),(-3.283,-5.526),(-3.11,-5.485),(-3.723,-5.54),(-2.81,-5.526),(-2.925,-5.54),(-2.983,-5.595),(-4.723,-5.554),(-4.416,-5.568),(-3.434,-5.59),(-3.642,-5.595),(-3.584,-5.637),(-3.711,-5.637),(-5.037,-5.595),(-3.912,-5.637),(-4.203,-5.637),(-4.162,-5.679),(-4.439,-5.646),(-3.191,-5.651),(-3.318,-5.623),(-3.087,-5.665),(-4.825,-5.673),(-3.503,-5.693),(-2.764,-5.734),(-4.665,-5.712),(-4.081,-5.743),(-3.989,-5.767),(-4.266,-5.762),(-4.259,-5.831),(-4.15,-5.79),(-3.434,-5.776),(-3.341,-5.804),(-3.711,-5.845),(-3.249,-5.817),(-3.11,-5.831),(-3.052,-5.859),(-3.642,-5.887),(-3.457,-5.817),(-2.787,-5.9),(-4.89,-5.878),(-3.804,-5.887),(-4.092,-5.906),(-2.949,-5.887),(-4.843,-5.95),(-4.474,-5.956),(-2.879,-5.97),
    (-2.222,-2.11),(-2.276,-2.207),(-2.211,-2.318),(-1.492,-2.137),(-2.74,-2.664),(-2.696,-2.767),(-2.701,-2.864),(-2.701,-2.919),(-2.858,-2.822),(-2.562,-2.872),(-2.483,-2.914),(-1.136,-2.822),(-1.351,-2.861),(-1.892,-2.953),(-.559,-3.003),(-2.696,-3.105),(-2.885,-3.127),(-2.909,-3.202),(-1.834,-3.266),(-1.652,-3.28),(-2.146,-3.294),(-2.095,-3.335),(-2.557,-3.233),(-2.509,-3.26),(-2.608,-3.322),(-2.643,-3.405),(-2.604,-3.438),(-2.978,-3.46),(-2.712,-3.496),(-2.407,-3.518),(-2.296,-3.535),(-1.287,-3.571),(-2.218,-3.613),(-1.021,-3.646),(-1.818,-3.627),(-1.834,-3.696),(-1.783,-3.737),(-1.411,-3.69),(-.443,-3.738),(-.148,-3.74),(.107,-3.721),(-2.798,-3.599),(-2.869,-3.654),(-2.978,-3.737),(-2.909,-3.737),(-2.782,-3.696),(-2.735,-3.743),(-2.601,-3.688),(-2.116,-3.724),(-2.135,-3.807),(-2.407,-3.682),(-2.446,-3.765),(-2.412,-3.793),(-1.534,-3.776),(-2.654,-3.793),(-2.631,-3.89),(-2.574,-3.932),(-1.564,-3.923),(-2.359,-3.876),(-2.315,-3.918),(-2.165,-3.909),(-2.899,-3.912),(-2.728,-3.976),(-2.481,-3.993),(-2.058,-3.973),(-1.968,-4.029),(-1.869,-4.009),(-1.818,-4.009),(-1.409,-3.981),(-1.356,-4.015),(-1.33,-4.084),(-1.393,-4.14),(-2.174,-4.034),(-2.151,-4.112),(-1.737,-4.084),(-2.296,-4.084),(-2.897,-4.126),(-2.781,-4.112),(-2.816,-4.162),(-1.522,-4.117),(-1.626,-4.098),(-1.666,-4.17),(-1.596,-4.209),(-2.266,-4.181),(-2.199,-4.223),(-.984,-4.159),(-.806,-4.09),(-.744,-4.195),(-.714,-4.256),(-2.689,-4.209),(-2.62,-4.195),(-1.783,-4.228),(-2.058,-4.264),(-.933,-4.311),(-.785,-4.32),(-1.934,-4.3),(-2.488,-4.278),(-2.516,-4.32),(-2.597,-4.306),(-2.158,-4.334),(-2.107,-4.408),(-2.758,-4.334),(-2.828,-4.403),(-2.747,-4.458),(-1.532,-4.348),(-1.476,-4.334),(-2.44,-4.348),(-2.343,-4.403),(-2.343,-4.445),(-2.932,-4.422),(-1.603,-4.411),(-1.876,-4.453),(-2.024,-4.467),(-2.585,-4.467),(-2.527,-4.5),(-2.239,-4.472),(-2.47,-4.5),(-2.978,-4.569),(-2.308,-4.561),(-1.555,-4.55),(-1.665,-4.564),(-1.379,-4.578),(-.887,-4.589),(-.168,-4.564),(-2.037,-4.569),(-1.934,-4.556),(-1.927,-4.625),(-2.527,-4.583),(-2.678,-4.589),(-2.839,-4.611),(-2.793,-4.605),(-1.615,-4.639),(-1.418,-4.653),(-1.245,-4.633),(-1.252,-4.708),(-1.303,-4.716),(-.778,-4.658),(-2.197,-4.639),(-2.054,-4.639),(-2.019,-4.667),(-1.742,-4.653),(-2.423,-4.667),(-2.377,-4.653),(-2.551,-4.667),(-2.885,-4.694),(-2.77,-4.714),(-.841,-4.741),(-.882,-4.811),(-1.025,-4.805),(-.968,-4.833),(-1.545,-4.741),(-1.626,-4.758),(-2.181,-4.736),(-1.991,-4.764),(-1.811,-4.75),(-1.811,-4.819),(-1.799,-4.875),(-1.857,-4.875),(-2.446,-4.736),(-2.377,-4.769),(-2.458,-4.833),(-2.389,-4.875),(-.681,-4.791),(-.598,-4.849),(-2.62,-4.777),(-2.597,-4.833),(-2.153,-4.811),(-1.441,-4.833),(-1.464,-4.875),(-1.425,-4.908),(-2.867,-4.805),(-2.775,-4.805),(-2.758,-4.888),(-1.603,-4.869),(-1.665,-4.916),(-.684,-4.941),(-2.684,-4.847),(-2.296,-4.875),(-2.331,-4.958),(-2.22,-4.908),(-2.169,-4.944),(-2.169,-5.013),(-2.793,-4.952),(-1.994,-5.0),(-2.943,-5.0),(-2.885,-5.013),(-1.049,-5.013),(-1.677,-5.019),(-.725,-5.066),(-2.717,-5.022),(-2.585,-5.013),(-1.945,-5.055),(-1.92,-5.138),(-1.795,-5.055),(-2.22,-5.027),(-2.262,-5.124),(-2.354,-5.041),(-1.268,-5.057),(-2.654,-5.096),(-1.575,-5.124),(-1.615,-5.152),(-2.932,-5.096),(-2.862,-5.138),(-2.481,-5.143),(-1.799,-5.152),(-1.735,-5.16),(-2.747,-5.166),(-2.793,-5.193),(-2.396,-5.174),(-2.007,-5.193),(-1.515,-5.193),(-1.317,-5.174),(-.991,-5.193),(-1.148,-5.263),(-2.62,-5.213),(-2.285,-5.235),(-1.781,-5.263),(-2.712,-5.263),(-2.897,-5.263),(-2.128,-5.263),(-2.042,-5.291),(-2.55,-5.291),(-2.516,-5.332),(-2.412,-5.332),(-2.354,-5.332),(-2.798,-5.318),(-1.587,-5.326),(-1.599,-5.401),(-1.765,-5.346),(-1.707,-5.415),(-2.215,-5.351),(-2.978,-5.346),(-2.943,-5.401),(-1.009,-5.36),(-.418,-5.365),(-1.857,-5.368),(-2.054,-5.388),(-1.499,-5.457),(-1.568,-5.485),(-2.158,-5.443),(-2.158,-5.554),(-2.597,-5.429),(-2.527,-5.429),(-1.931,-5.443),(-2.874,-5.388),(-2.712,-5.476),(-2.007,-5.429),(-.085,-5.515),(-1.31,-5.518),(-2.308,-5.512),(-2.446,-5.568),(-1.465,-5.554),(-1.904,-5.554),(-2.816,-5.526),(-2.932,-5.54),(-2.862,-5.61),(-2.215,-5.609),(-2.273,-5.623),(-1.511,-5.645),(-1.677,-5.662),(-2.065,-5.665),(-1.952,-5.651),(-2.678,-5.693),(-2.758,-5.734),(-2.909,-5.693),(-1.751,-5.706),(-1.58,-5.776),(-2.285,-5.748),(-2.239,-5.748),(-2.366,-5.767),(-2.458,-5.826),(-2.562,-5.817),(-2.742,-5.817),(-2.389,-5.845),(-2.262,-5.859),(-1.92,-5.867),(-2.643,-5.892),(-2.966,-5.9),(-1.679,-5.878),(-2.539,-5.97),(-2.885,-5.956),(-1.199,-5.97),(-1.58,-5.97),
    (-5.767,-6.305),(-5.15,-6.291),(-5.026,-6.216),(-4.807,-6.291),(-4.915,-6.077),(-4.717,-6.583),(-4.422,-6.513),(-4.589,-6.061),(-4.485,-6.125),(-4.416,-6.055),(-4.727,-6.166),(-4.156,-6.027),(-4.208,-6.125),(-4.104,-6.194),(-3.99,-6.186),(-4.069,-6.263),(-3.74,-6.263),(-3.584,-6.375),(-3.618,-6.333),(-3.688,-6.055),(-3.566,-6.083),(-3.383,-6.216),(-3.272,-6.11),(-3.157,-6.175),(-2.977,-6.194),(-3.289,-6.43),(-3.306,-6.541),(-3.119,-6.425),(-2.786,-6.291),(-2.596,-6.361),(-2.804,-6.388),(-2.873,-6.444),(-2.81,-6.5),(-2.509,-6.444),(-2.388,-6.299),(-2.693,-6.166),(-2.36,-6.097),(-2.135,-6.11),(-2.7,-6.069),(-2.474,-6.055),(-2.11,-6.013),(-1.896,-6.047),(-1.764,-6.069),(-1.573,-5.986),(-1.199,-6.008),(-.95,-6.286),(-1.556,-6.166),(-1.764,-6.23),(-1.705,-6.286),(-1.962,-6.277),(-2.197,-6.352),(-2.135,-6.305),(-1.331,-6.255),(-2.086,-6.45),(-1.996,-6.466),(-1.379,-6.43),(-1.809,-6.491),(-1.726,-6.519),(-2.013,-6.575),(-2.457,-6.602),(-2.388,-6.589),(-1.805,-6.639),(-1.913,-6.619),(-1.088,-6.647),(-4.294,-6.425),(-4.104,-6.541),(-4.052,-6.5),(-4.006,-6.569),(-4.058,-6.611),(-3.965,-6.394),(-3.885,-6.436),(-3.774,-6.519),(-3.549,-6.533),(-4.214,-6.666),(-4.034,-6.689),(-3.66,-6.736),(-3.93,-6.764),(-4.19,-6.777),(-4.145,-6.839),(-3.982,-6.866),(-4.294,-6.908),(-3.237,-6.902),(-3.22,-6.833),(-3.15,-6.847),(-3.098,-6.778),(-3.022,-6.827),(-3.105,-6.922),(-2.897,-6.819),(-2.897,-6.894),(-2.561,-6.689),(-2.429,-6.791),(-2.256,-6.847),(-1.92,-6.902),(-2.752,-6.958),(-2.579,-6.925),(-2.388,-7.028),(-3.376,-7.069),(-3.272,-7.036),(-3.209,-7.111),(-1.532,-6.99),(-4.537,-7.119),(-4.301,-7.208),(-3.993,-7.155),(-3.878,-7.161),(-3.618,-7.269),(-3.133,-7.311),(-2.554,-7.333),(-2.474,-7.292),(-2.152,-7.255),(-1.365,-7.292),(-3.809,-7.366),(-3.934,-7.414),(-3.611,-7.411),(-2.294,-7.533),(-2.09,-7.516),(-3.726,-7.55),(-4.034,-7.75)]

model_1_core = [(-3.428,-3.516),(-3.696,-3.599),(-3.73,-3.682),(-3.851,-3.801),(-3.998,-3.862),(-3.67,-3.751),(-3.509,-3.793),(-3.444,-3.724),(-3.35,-3.751),(-3.323,-3.807),(-3.207,-3.688),(-3.172,-3.738),(-2.971,-3.724),(-2.9,-3.738),(-2.865,-3.641),(-2.78,-3.682),(-2.73,-3.738),(-2.653,-3.779),(-2.599,-3.696),(-2.448,-3.765),(-2.418,-3.821),(-2.408,-3.682),(-2.297,-3.53),(-2.226,-3.613),(-2.408,-3.516),(-3.615,-3.89),(-3.732,-3.951),(-3.887,-3.987),(-3.434,-3.918),(-3.223,-3.932),(-3.253,-3.973),(-3.148,-3.973),(-3.042,-3.876),(-3.062,-3.946),(-2.9,-3.918),(-2.73,-3.973),(-2.619,-3.904),(-2.478,-3.993),(-2.388,-3.946),(-2.357,-3.876),(-2.317,-3.904),(-3.666,-4.015),(-3.605,-4.029),(-3.525,-4.029),(-3.706,-4.07),(-3.968,-4.084),(-3.092,-4.043),(-2.951,-3.999),(-3.223,-4.098),(-3.163,-4.112),(-2.891,-4.126),(-2.82,-4.154),(-2.78,-4.112),(-2.569,-4.07),(-2.619,-4.112),(-2.257,-4.181),(-3.454,-4.112),(-3.585,-4.148),(-3.736,-4.181),(-3.686,-4.209),(-3.847,-4.154),(-3.958,-4.209),(-3.364,-4.159),(-3.001,-4.167),(-3.267,-4.195),(-3.253,-4.251),(-2.699,-4.209),(-2.639,-4.181),(-2.659,-4.223),(-3.545,-4.265),(-3.485,-4.298),(-3.585,-4.32),(-3.635,-4.348),(-3.676,-4.292),(-3.334,-4.292),(-3.933,-4.348),(-3.555,-4.389),(-3.605,-4.417),(-3.656,-4.431),(-3.726,-4.375),(-3.313,-4.375),(-3.173,-4.334),(-3.203,-4.417),(-3.223,-4.486),(-3.106,-4.431),(-3.042,-4.423),(-2.921,-4.417),(-2.82,-4.389),(-2.76,-4.348),(-2.75,-4.417),(-2.73,-4.459),(-2.599,-4.306),(-2.69,-4.334),(-2.488,-4.278),(-2.518,-4.32),(-2.438,-4.348),(-2.357,-4.389),(-2.347,-4.459),(-2.478,-4.403),(-2.589,-4.467),(-2.528,-4.5),(-2.458,-4.5),(-3.978,-4.508),(-3.917,-4.5),(-3.766,-4.486),(-3.746,-4.528),(-3.847,-4.583),(-3.656,-4.542),(-3.464,-4.514),(-3.384,-4.583),(-3.293,-4.583),(-3.203,-4.63),(-3.001,-4.564),(-2.675,-4.589),(-2.85,-4.619),(-2.79,-4.611),(-2.307,-4.556),(-2.387,-4.597),(-2.538,-4.597),(-3.515,-4.63),(-3.565,-4.667),(-3.646,-4.625),(-3.867,-4.694),(-3.837,-4.708),(-3.706,-4.722),(-3.334,-4.708),(-3.273,-4.722),(-3.424,-4.75),(-3.122,-4.653),(-3.072,-4.625),(-3.082,-4.736),(-3.132,-4.708),(-3.042,-4.694),(-2.885,-4.689),(-2.776,-4.708),(-2.548,-4.667),(-2.448,-4.694),(-2.357,-4.68),(-2.277,-4.653),(-3.334,-4.791),(-3.263,-4.764),(-3.404,-4.805),(-3.485,-4.791),(-3.666,-4.819),(-3.726,-4.847),(-3.968,-4.819),(-2.997,-4.778),(-3.022,-4.847),(-2.871,-4.805),(-2.77,-4.805),(-2.609,-4.791),(-2.579,-4.847),(-2.458,-4.847),(-2.377,-4.778),(-2.418,-4.791),(-2.307,-4.847),(-3.454,-4.861),(-3.303,-4.875),(-3.162,-4.861),(-3.122,-4.875),(-2.764,-4.888),(-2.685,-4.852),(-3.867,-4.922),(-3.736,-4.958),(-3.968,-4.93),(-3.142,-4.944),(-3.052,-4.949),(-2.79,-4.944),(-2.518,-4.93),(-2.418,-4.902),(-2.327,-4.93),(-3.535,-4.999),(-3.454,-4.999),(-3.384,-4.994),(-3.309,-4.999),(-3.132,-4.999),(-2.941,-4.999),(-2.881,-5.008),(-2.72,-5.019),(-2.583,-5.013),(-3.615,-5.041),(-3.877,-4.999),(-3.927,-5.069),(-3.988,-5.055),(-2.347,-5.041),(-3.656,-5.083),(-3.726,-5.069),(-3.867,-5.096),(-3.364,-5.083),(-3.354,-5.13),(-3.082,-5.096),(-3.062,-5.138),(-2.981,-5.11),(-2.921,-5.083),(-2.659,-5.091),(-2.589,-5.069),(-3.267,-5.152),(-2.82,-5.152),(-2.75,-5.166),(-2.478,-5.152),(-2.377,-5.18),(-2.297,-5.096),(-3.726,-5.152),(-3.595,-5.207),(-3.706,-5.221),(-3.867,-5.241),(-3.162,-5.207),(-2.538,-5.221),(-2.619,-5.263),(-2.277,-5.221),(-3.36,-5.254),(-3.172,-5.263),(-2.901,-5.263),(-2.71,-5.263),(-3.907,-5.263),(-3.817,-5.318),(-3.696,-5.318),(-3.545,-5.304),(-3.193,-5.318),(-2.981,-5.313),(-2.8,-5.318),(-2.931,-5.332),(-2.418,-5.318),(-2.327,-5.318),(-2.619,-5.332),(-3.575,-5.374),(-3.464,-5.382),(-3.364,-5.346),(-3.279,-5.374),(-3.132,-5.36),(-3.082,-5.374),(-2.871,-5.388),(-2.599,-5.374),(-2.428,-5.374),(-3.605,-5.429),(-3.082,-5.443),(-3.022,-5.415),(-2.8,-5.429),(-2.559,-5.429),(-2.71,-5.471),(-3.505,-5.499),(-3.293,-5.512),(-2.297,-5.499),(-3.726,-5.54),(-2.981,-5.526),(-2.901,-5.526),(-2.82,-5.512),
    (-3.353,-5.263),(-3.172,-5.305),(-3.072,-5.374),(-2.981,-5.318),(-2.9,-5.263),(-2.87,-5.388),(-2.709,-5.268),(-2.619,-5.346),(-2.518,-5.332),(-2.589,-5.415),(-2.417,-5.346),(-2.216,-5.346),(-2.125,-5.263),(-2.045,-5.291),(-2.065,-5.388),(-1.854,-5.368),(-3.545,-5.291),(-3.565,-5.388),(-3.464,-5.388),(-3.283,-5.374),(-2.005,-5.194),(-3.504,-5.499),(-3.283,-5.526),(-3.233,-5.568),(-3.585,-5.54),(-3.424,-5.582),(-3.585,-5.637),(-3.353,-5.637),(-3.303,-5.623),(-3.192,-5.637),(-3.112,-5.485),(-2.981,-5.568),(-2.89,-5.526),(-2.81,-5.513),(-2.84,-5.61),(-3.001,-5.623),(-2.709,-5.471),(-2.508,-5.526),(-2.448,-5.568),(-2.297,-5.513),(-2.156,-5.457),(-2.166,-5.568),(-2.216,-5.61),(-2.075,-5.471),(-1.995,-5.429),(-1.934,-5.443),(-1.914,-5.554),(-1.834,-5.623),(-2.276,-5.623),(-2.438,-5.651),(-2.689,-5.623),(-3.504,-5.679),(-3.565,-5.679),(-3.082,-5.665),(-2.92,-5.693),(-2.739,-5.734),(-2.669,-5.693),(-2.065,-5.665),(-1.954,-5.646),(-3.434,-5.776),(-3.374,-5.776),(-3.323,-5.804),(-3.464,-5.748),(-3.192,-5.748),(-3.247,-5.812),(-3.132,-5.817),(-3.082,-5.817),(-3.041,-5.845),(-3.162,-5.859),(-2.961,-5.887),(-2.739,-5.817),(-2.558,-5.804),(-2.458,-5.823),(-2.357,-5.762),(-2.377,-5.845),(-2.276,-5.748),(-2.236,-5.748),(-2.252,-5.851),(-1.918,-5.867),(-2.629,-5.887),(-3.555,-5.831),(-3.464,-5.915),(-3.404,-5.915),(-3.343,-5.97),(-3.273,-5.984),(-3.142,-5.956),(-3.051,-6.025),(-2.961,-6.012),(-2.88,-5.97),(-2.85,-6.039),(-2.538,-5.978),(-2.589,-6.025),(-2.458,-6.053),(-2.498,-6.067),(-2.357,-6.089),(-2.136,-6.109),(-2.095,-6.017),(-1.898,-6.045),(-3.575,-6.012),(-3.484,-6.039),(-3.273,-6.123),(-2.729,-6.095),(-2.639,-6.053),(-2.689,-6.15),(-3.152,-6.178),(-2.975,-6.197),(-3.384,-6.214),(-3.514,-6.192),(-3.565,-6.239),(-2.77,-6.261),(-2.794,-6.289),(-2.393,-6.294),(-1.96,-6.275),(-2.609,-6.364),(-2.578,-6.344),(-2.136,-6.303),(-2.196,-6.35),(-3.575,-6.372),(-3.287,-6.414),(-3.122,-6.419),(-2.81,-6.372),(-2.085,-6.447),(-1.995,-6.464),(-1.814,-6.483),(-3.287,-6.469),(-2.911,-6.455),(-2.864,-6.433),(-2.814,-6.489),(-2.514,-6.441),(-3.303,-6.53),(-3.549,-6.53),(-2.462,-6.594),(-2.391,-6.586),(-2.015,-6.572),(-1.91,-6.613),(-1.814,-6.636),(-2.558,-6.686),(-2.427,-6.788),(-3.102,-6.774),(-3.233,-6.844),(-3.182,-6.844),(-3.132,-6.83),(-3.243,-6.899),(-3.021,-6.821),(-2.896,-6.816),(-2.896,-6.885),(-3.106,-6.919),(-2.256,-6.844),(-1.92,-6.899),(-2.756,-6.955),(-2.574,-6.919),(-3.373,-7.06),(-3.283,-7.032),(-3.223,-7.052),(-3.206,-7.107),(-2.387,-7.024)]

# lower left and lower right of model 1
model_1_lower = [(-4.853,-5.0),(-4.944,-5.333),(-4.877,-5.297),(-5.04,-5.59),(-4.827,-5.674),(-4.722,-5.549),(-4.682,-5.452),(-4.666,-5.713),(-4.648,-5.263),(-4.627,-5.23),(-4.481,-5.216),(-4.416,-5.188),(-4.279,-5.166),(-4.239,-5.263),(-4.158,-5.139),(-4.148,-5.186),(-4.038,-5.188),(-4.35,-5.347),(-4.235,-5.366),(-4.098,-5.43),(-4.42,-5.563),(-4.44,-5.643),(-4.36,-5.588),(-4.205,-5.629),(-4.158,-5.674),(-4.189,-5.713),(-4.082,-5.74),(-4.148,-5.776),(-4.275,-5.776),(-4.259,-5.837),(-3.993,-5.776),(-3.993,-5.527),(-3.983,-5.568),(-3.911,-5.632),(-3.997,-5.374),(-3.816,-5.324),(-3.887,-5.444),(-3.867,-5.249),(-3.706,-5.222),(-3.595,-5.208),(-3.585,-5.347),(-3.545,-5.388),(-3.454,-5.374),(-3.504,-5.499),(-3.716,-5.541),(-3.645,-5.61),(-3.585,-5.707),(-3.504,-5.679),(-3.434,-5.596),(-3.424,-5.762),(-3.72,-5.84),(-3.665,-5.887),(-3.625,-5.818),(-3.796,-5.882),(-3.464,-5.915),(-4.094,-5.909),(-3.685,-6.054),(-3.615,-5.998),(-3.565,-6.081),(-3.484,-6.04),(-3.514,-6.123),(-4.154,-6.026),(-4.203,-6.123),(-4.481,-5.976),(-4.414,-6.048),(-4.35,-6.034),(-4.589,-6.059),(-4.487,-6.123),(-4.887,-5.879),(-4.833,-5.943),(-4.877,-5.97),(-4.913,-6.076),(-4.722,-6.173),(-5.024,-6.215),(-5.151,-6.289),(-4.807,-6.289),(-4.098,-6.192),(-3.991,-6.184),(-4.052,-6.256),(-4.088,-6.289),(-3.736,-6.262),(-3.706,-6.275),(-3.615,-6.339),(-3.581,-6.386),(-3.545,-6.234),(-3.514,-6.198),(-3.384,-6.215),(-4.295,-6.423),(-3.961,-6.395),(-3.887,-6.428),(-4.42,-6.511),(-4.716,-6.581),(-3.776,-6.511),(-3.551,-6.539),(-4.098,-6.539),(-4.048,-6.492),(-4.001,-6.567),(-4.062,-6.603),(-4.034,-6.691),(-4.213,-6.664),(-4.138,-6.747),(-4.203,-6.775),(-4.179,-6.83),(-4.132,-6.844),(-3.923,-6.755),(-3.987,-6.872),(-3.659,-6.733),(-4.293,-6.908),(-4.535,-7.113),(-3.384,-7.066),(-3.991,-7.143),(-3.877,-7.149),
    (-1.27,-5.061),(-1.053,-5.014),(-.727,-5.064),(-1.316,-5.175),(-1.149,-5.258),(-.988,-5.194),(-1.008,-5.36),(-1.31,-5.518),(-1.2,-6.007),(-1.334,-6.253),(-.958,-6.284),(-1.381,-6.428),(-1.089,-6.644),(-1.534,-6.997),(-1.92,-6.897),(-2.256,-6.844),(-2.427,-6.789),(-2.387,-7.019),(-2.458,-6.594),(-2.393,-6.586),(-2.015,-6.572),(-1.914,-6.617),(-1.803,-6.636),(-1.727,-6.517),(-1.809,-6.484),(-1.991,-6.464),(-2.085,-6.447),(-2.508,-6.442),(-2.196,-6.35),(-2.136,-6.309),(-1.96,-6.275),(-2.391,-6.295),(-1.767,-6.234),(-1.703,-6.281),(-1.556,-6.165),(-1.578,-5.984),(-1.763,-6.068),(-1.894,-6.045),(-1.683,-5.882),(-1.92,-5.868),(-1.586,-5.782),(-1.749,-5.707),(-1.677,-5.66),(-1.518,-5.643),(-1.467,-5.56),(-1.501,-5.457),(-1.572,-5.485),(-1.598,-5.396),(-1.588,-5.327),(-1.703,-5.43),(-1.763,-5.333),(-1.763,-5.402),(-1.783,-5.258),(-1.518,-5.188),(-1.578,-5.119),(-1.622,-5.152),(-1.733,-5.161),(-1.803,-5.158),(-1.793,-5.064),(-1.673,-5.014),(-1.854,-5.369),(-1.838,-5.632),(-1.914,-5.554),(-1.89,-5.568),(-1.95,-5.646),(-2.065,-5.66),(-1.924,-5.452),(-2.041,-5.291),(-2.051,-5.374),(-2.065,-5.471),(-2.005,-5.43),(-2.005,-5.188),(-1.92,-5.139),(-1.944,-5.055),(-1.991,-5.014),(-2.125,-5.255),(-2.216,-5.347),(-2.16,-5.43),(-2.16,-5.554),(-2.216,-5.61),(-2.276,-5.624),(-2.236,-5.735),(-2.276,-5.749),(-2.256,-5.854),(-2.361,-5.762),(-2.458,-5.826),(-2.377,-5.851),(-2.333,-5.887),(-2.458,-6.04),(-2.498,-6.068),(-2.357,-6.09),(-2.136,-6.018),(-2.089,-6.02),(-2.14,-6.109),(-2.303,-5.513),(-2.454,-5.568),(-2.437,-5.652),(-2.28,-5.236),(-2.397,-5.175),(-2.488,-5.147),(-2.216,-5.125),(-2.347,-5.041),(-2.196,-5.014),(-2.417,-5.333),(-2.508,-5.333)]

ink = "#262626"

p = figure(frame_width=2127, frame_height=1682, x_range=Range1d(-6.546, 6.30), y_range=Range1d(-8, 6),
           output_backend="svg", toolbar_location=None, background_fill_color="white",
           min_border_left=113, min_border_right=31, min_border_bottom=118, min_border_top=0,
           title=title_text)
p.outline_line_color = None
p.grid.visible = False
p.title.align = "left"
p.title.vertical_align = "middle"
p.title.text_font = "Liberation Sans"
p.title.text_font_style = "bold"
p.title.text_font_size = "72px"
p.title.text_color = "black"
p.title.offset = 212
p.title.standoff = 26


def style_axis(axis, ticks, labelled):
    axis.ticker = FixedTicker(ticks=ticks)
    axis.axis_line_color = ink
    axis.axis_line_width = 4
    axis.major_tick_line_color = ink
    axis.major_tick_line_width = 4
    axis.major_tick_in = 24
    axis.major_tick_out = 0
    axis.minor_tick_line_color = None
    if labelled:
        axis.major_label_text_font = "Liberation Sans"
        axis.major_label_text_font_size = "64px"
        axis.major_label_text_color = ink
        axis.major_label_overrides = {t: str(t) for t in ticks}
    else:
        axis.major_label_text_font_size = "0px"
        axis.major_label_standoff = 0


style_axis(p.xaxis[0], x_ticks, True)
style_axis(p.yaxis[0], y_ticks, True)
p.xaxis[0].major_label_standoff = 52
p.yaxis[0].major_label_standoff = 30

top_axis = LinearAxis()
style_axis(top_axis, x_ticks, False)
p.add_layout(top_axis, "above")
right_axis = LinearAxis()
style_axis(right_axis, y_ticks, False)
p.add_layout(right_axis, "right")

red_all = model_0_points + model_0_core
cyan_all = model_1_points + model_1_core + model_1_lower
red_dots = p.scatter([a for a, b in red_all], [b for a, b in red_all], size=12.5, color="#ff0000", line_color=None)
cyan_dots = p.scatter([a for a, b in cyan_all], [b for a, b in cyan_all], size=12.5, color="#00ffff", line_color=None)

for contours in (red_contours, cyan_contours):
    for verts, col in zip(contours, contour_colors):
        closed = verts + verts[:1]
        p.line([a for a, b in closed], [b for a, b in closed], line_color=col, line_width=3.8)

legend = Legend(items=[LegendItem(label=series_names[0], renderers=[red_dots]),
                       LegendItem(label=series_names[1], renderers=[cyan_dots])],
                location=(1631, 1467), padding=12, spacing=14, glyph_width=205, glyph_height=32,
                label_width=217, label_height=32, label_standoff=11, margin=0,
                label_text_font="Liberation Sans", label_text_font_size="58px", label_text_color="black",
                border_line_color=ink, border_line_width=4, border_line_alpha=1,
                background_fill_color="white", background_fill_alpha=1)
p.add_layout(legend, "center")

open("out.html", "w").write(file_html(p, INLINE))
